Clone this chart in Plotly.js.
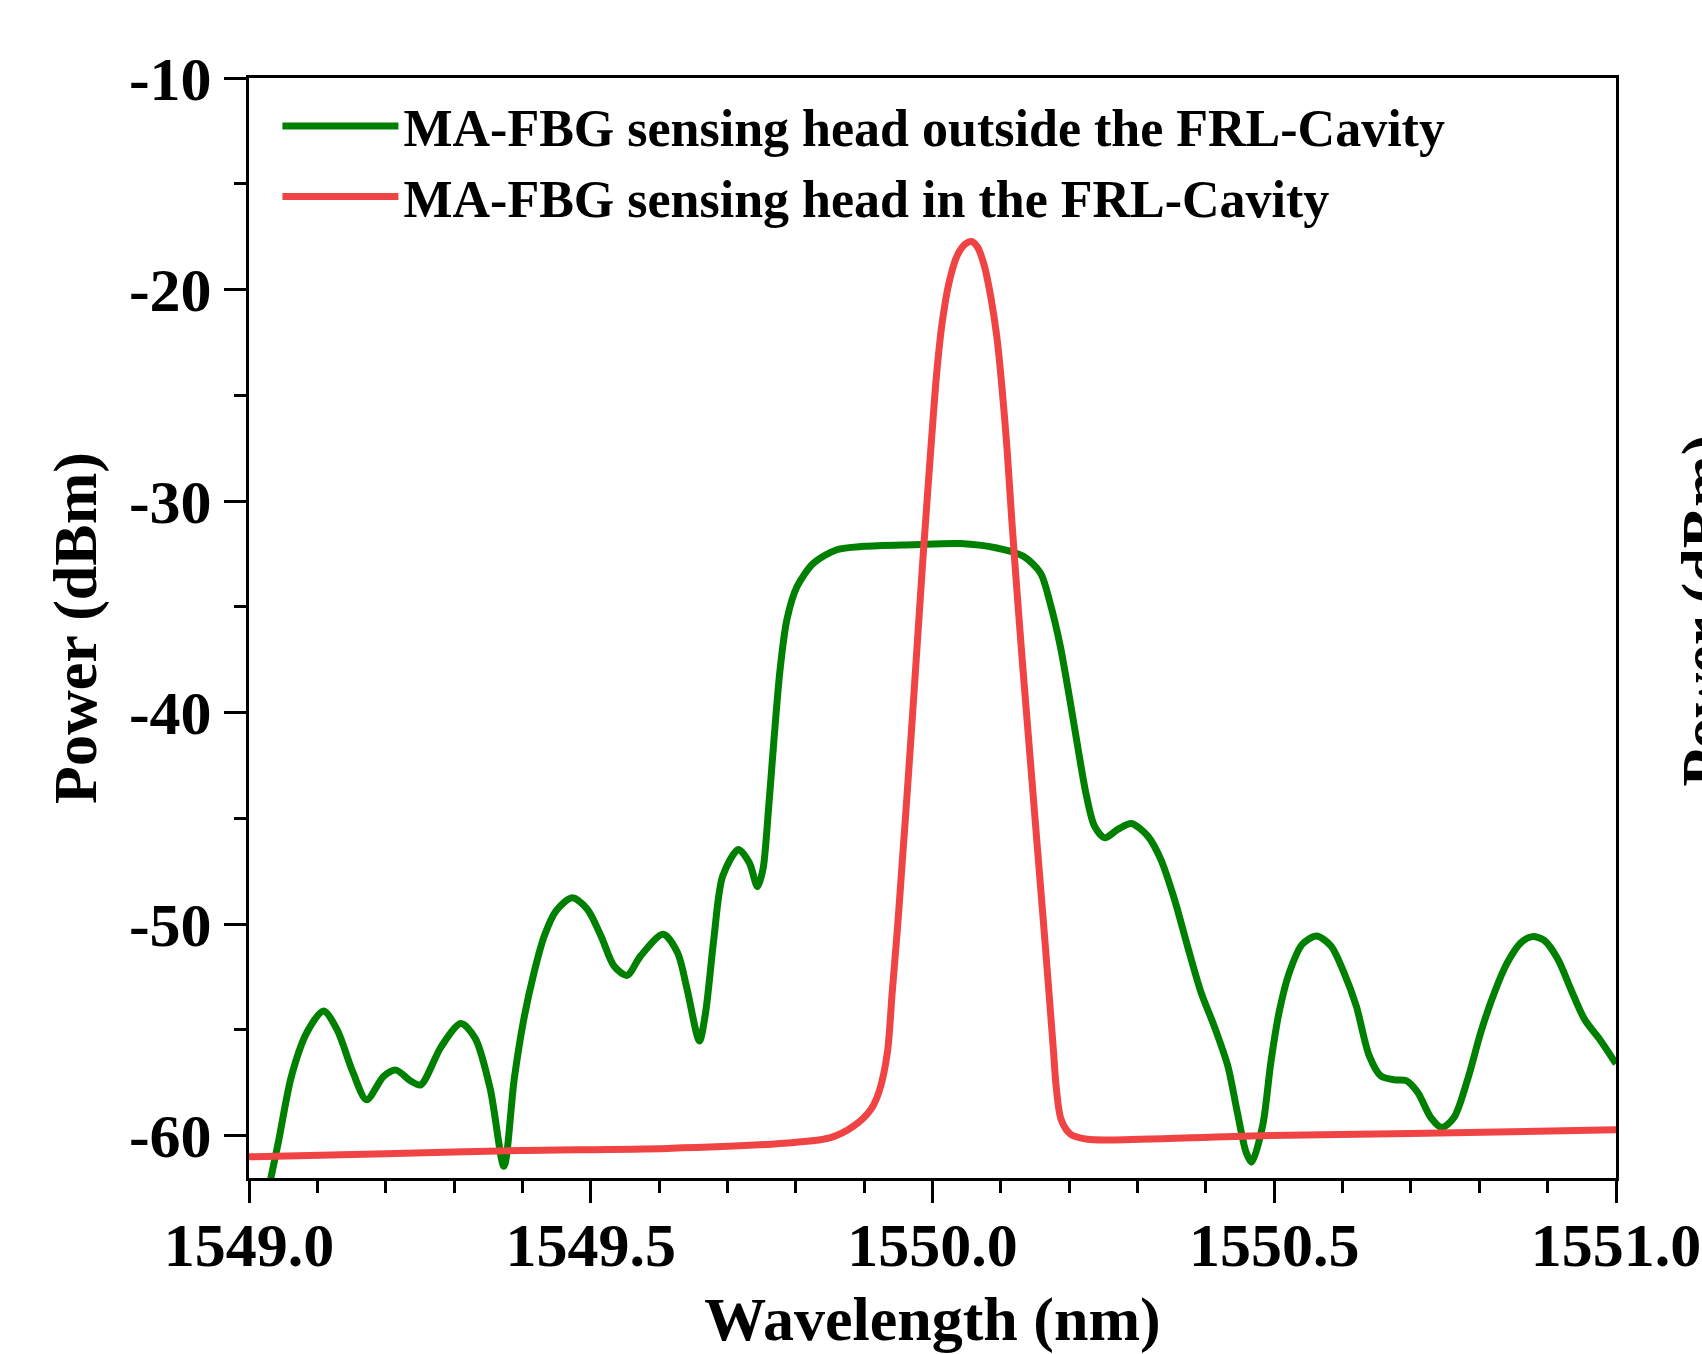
<!DOCTYPE html>
<html>
<head>
<meta charset="utf-8">
<script src="https://cdn.plot.ly/plotly-3.0.1.min.js"></script>
<style>
  html, body { margin: 0; padding: 0; background: #ffffff; }
  #chart { width: 1702px; height: 1354px; }
</style>
</head>
<body>
<div id="chart"></div>
<script>
// ---- Data ----
const greenName = "MA-FBG sensing head outside the FRL-Cavity";
const redName = "MA-FBG sensing head in the FRL-Cavity";

const greenWavelength = [
  1549.020, 1549.032, 1549.043, 1549.062, 1549.085, 1549.109, 1549.129, 1549.152, 1549.172, 1549.197,
  1549.215, 1549.236, 1549.251, 1549.281, 1549.310, 1549.331, 1549.353, 1549.373, 1549.388, 1549.402,
  1549.417, 1549.432, 1549.449, 1549.473, 1549.495, 1549.515, 1549.534, 1549.553, 1549.573, 1549.606,
  1549.627, 1549.641, 1549.659, 1549.668, 1549.680, 1549.693, 1549.716, 1549.732, 1549.744, 1549.752,
  1549.760, 1549.768, 1549.777, 1549.787, 1549.802, 1549.826, 1549.860, 1549.899, 1549.972,
  1550.041, 1550.094, 1550.133, 1550.158, 1550.172, 1550.187, 1550.201, 1550.215, 1550.225,
  1550.237, 1550.252, 1550.271, 1550.291, 1550.315, 1550.334, 1550.354, 1550.373, 1550.393, 1550.412,
  1550.432, 1550.446, 1550.459, 1550.467, 1550.483, 1550.495, 1550.507, 1550.522, 1550.541, 1550.562,
  1550.583, 1550.602, 1550.620, 1550.639, 1550.656, 1550.676, 1550.693, 1550.710, 1550.729, 1550.745,
  1550.763, 1550.783, 1550.802, 1550.822, 1550.841, 1550.861, 1550.878, 1550.895, 1550.915, 1550.934,
  1550.954, 1550.976, 1551.000
];
const greenPower = [
  -64.0, -62.0, -60.3, -57.2, -55.1, -54.1, -55.0, -57.0, -58.3, -57.2,
  -56.9, -57.4, -57.6, -55.8, -54.7, -55.4, -57.8, -61.45, -57.33, -54.5,
  -52.29, -50.56, -49.38, -48.75, -49.3, -50.56, -51.98, -52.42, -51.5, -50.48,
  -51.35, -53.08, -55.52, -54.18, -50.72, -47.73, -46.47, -47.1, -48.23, -47.4,
  -44.6, -41.3, -37.96, -35.6, -34.03, -32.93, -32.3, -32.14, -32.06,
  -32.01, -32.22, -32.61, -33.4, -34.81, -36.86, -39.4, -42.1, -43.9,
  -45.37, -45.92, -45.52, -45.24, -45.84, -46.94, -48.83, -51.03, -53.24, -54.81,
  -56.7, -58.9, -60.8, -61.25, -59.53, -56.54, -54.18, -52.29, -50.95, -50.56,
  -51.03, -52.29, -53.87, -56.23, -57.18, -57.36, -57.4, -57.96, -59.14, -59.61,
  -59.14, -57.33, -55.13, -53.24, -51.82, -50.87, -50.59, -50.77, -51.66, -53.08,
  -54.5, -55.44, -56.6
];

const redWavelength = [
  1549.000, 1549.200, 1549.398, 1549.612, 1549.798, 1549.851, 1549.885, 1549.910, 1549.922, 1549.934,
  1549.941, 1549.949, 1549.956, 1549.963, 1549.971, 1549.978, 1549.985, 1549.992, 1549.999, 1550.006,
  1550.014, 1550.024, 1550.036, 1550.048, 1550.057, 1550.066, 1550.076, 1550.085, 1550.094, 1550.101,
  1550.109, 1550.116, 1550.123, 1550.131, 1550.140, 1550.149, 1550.157, 1550.165, 1550.172, 1550.177,
  1550.181, 1550.188, 1550.202, 1550.227, 1550.266, 1550.480, 1550.700, 1551.000
];
const redPower = [
  -61.0, -60.85, -60.7, -60.6, -60.32, -60.09, -59.54, -58.75, -57.9, -56.07,
  -53.24, -50.09, -46.94, -43.79, -40.0, -36.6, -33.2, -30.0, -26.9, -24.0,
  -21.6, -19.7, -18.4, -17.85, -17.73, -18.0, -18.9, -20.3, -22.2, -24.4,
  -27.5, -30.9, -34.0, -37.4, -41.0, -44.6, -47.8, -51.0, -53.9, -56.0,
  -57.7, -59.22, -59.93, -60.17, -60.2, -60.0, -59.9, -59.72
];

const xTickVals = [1549.0, 1549.5, 1550.0, 1550.5, 1551.0];
const xTickText = ["1549.0", "1549.5", "1550.0", "1550.5", "1551.0"];
const yTickVals = [-60, -50, -40, -30, -20, -10];
const yTickText = ["-60", "-50", "-40", "-30", "-20", "-10"];

const xTitle = "Wavelength (nm)";
const yTitle = "Power (dBm)";

// ---- Styling ----
const FONT = "Liberation Serif, Times New Roman, serif";
const axisCommon = {
  showline: true, linecolor: "#000", linewidth: 3, mirror: true,
  ticks: "outside", ticklen: 22, tickwidth: 3, tickcolor: "#000",
  showgrid: false, zeroline: false, tickmode: "array",
  tickfont: { family: FONT, size: 62, color: "#000", weight: "bold" }
};

const traces = [
  {
    x: greenWavelength, y: greenPower, name: greenName, type: "scatter", mode: "lines",
    line: { color: "#008000", width: 7, shape: "spline", smoothing: 0.8 }
  },
  {
    x: redWavelength, y: redPower, name: redName, type: "scatter", mode: "lines",
    line: { color: "#F04444", width: 7, shape: "spline", smoothing: 0.8 }
  }
];

const layout = {
  width: 1702, height: 1354,
  margin: { l: 249, r: 86, t: 78, b: 176, pad: 0 },
  paper_bgcolor: "#fff", plot_bgcolor: "#fff",
  font: { family: FONT, color: "#000" },
  showlegend: true,
  legend: {
    x: 0.0208, y: 0.993, xanchor: "left", yanchor: "top",
    bgcolor: "rgba(0,0,0,0)", borderwidth: 0,
    itemwidth: 116, tracegroupgap: 0,
    font: { family: FONT, size: 52, color: "#000", weight: "bold" }
  },
  xaxis: Object.assign({}, axisCommon, {
    range: [1549, 1551], tickvals: xTickVals, ticktext: xTickText, ticklabelstandoff: -11,
    minor: { tick0: 1549, dtick: 0.1, ticks: "outside", ticklen: 12, tickwidth: 3, tickcolor: "#000", showgrid: false },
    title: { text: xTitle, standoff: 28, font: { family: FONT, size: 62, color: "#000", weight: "bold" } }
  }),
  yaxis: Object.assign({}, axisCommon, {
    range: [-62, -10], tickvals: yTickVals, ticktext: yTickText,
    minor: { tick0: -60, dtick: 5, ticks: "outside", ticklen: 12, tickwidth: 3, tickcolor: "#000", showgrid: false },
    title: { text: yTitle, standoff: 13, font: { family: FONT, size: 62, color: "#000", weight: "bold" } }
  }),
  annotations: [
    {
      // y-axis title of the neighbouring panel, cut by the right edge of the picture
      text: yTitle, xref: "paper", yref: "paper", x: 1.0637, y: 0.516,
      xanchor: "center", yanchor: "middle", textangle: -90, showarrow: false,
      font: { family: FONT, size: 62, color: "#000", weight: "bold" }
    }
  ]
};

Plotly.newPlot("chart", traces, layout, { displayModeBar: false, staticPlot: true });
</script>
</body>
</html>
